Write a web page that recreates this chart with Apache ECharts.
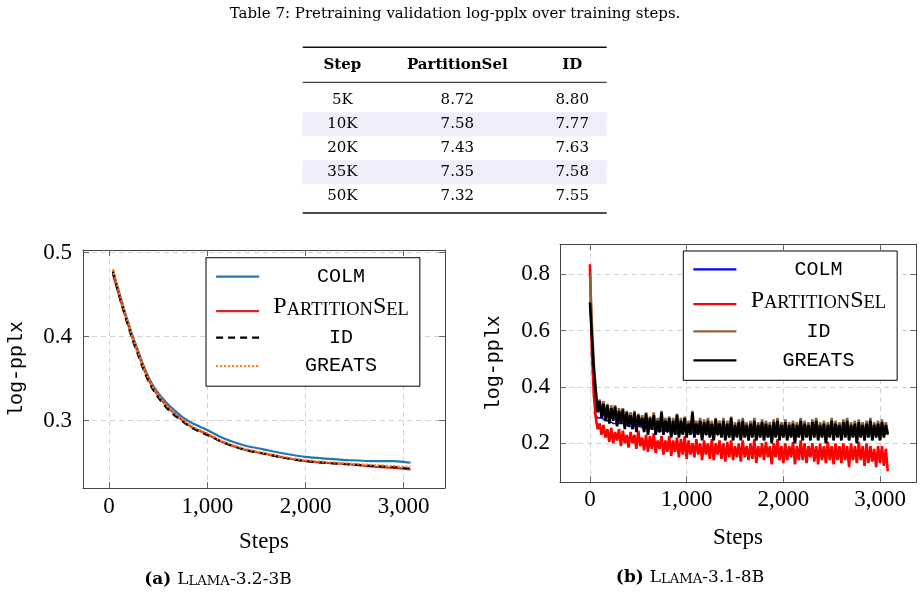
<!DOCTYPE html>
<html>
<head>
<meta charset="utf-8">
<script src="https://cdn.jsdelivr.net/npm/echarts@6/dist/echarts.min.js"></script>
<style>
  html, body { margin: 0; padding: 0; background: #fff; }
  #container { width: 924px; height: 598px; }
</style>
</head>
<body>
<div id="container"></div>
<script>
// ---- Table 7 ----
let tableHeader = ["Step", "PartitionSel", "ID"];
let tableSteps = ["5K", "10K", "20K", "35K", "50K"];
let tablePartitionSel = [8.72, 7.58, 7.43, 7.35, 7.32];
let tableId = [8.8, 7.77, 7.63, 7.58, 7.55];
let shadedRows = [1, 3];

// ---- (a) Llama-3.2-3B ----
let stepsA = [40, 80, 120, 160, 200, 240, 300, 350, 410, 480, 580, 660, 750, 850, 1000, 1130, 1260, 1400, 1570, 1780, 2000, 2200, 2460, 2730, 2900, 3070];
let colmA = [0.479, 0.462, 0.446, 0.43, 0.415, 0.401, 0.382, 0.366, 0.35, 0.336, 0.322, 0.313, 0.304, 0.297, 0.289, 0.281, 0.275, 0.27, 0.266, 0.261, 0.257, 0.255, 0.253, 0.252, 0.252, 0.25];
let partitionA = [0.474, 0.458, 0.442, 0.427, 0.412, 0.398, 0.379, 0.363, 0.347, 0.333, 0.318, 0.309, 0.3, 0.292, 0.284, 0.276, 0.27, 0.265, 0.261, 0.256, 0.252, 0.25, 0.248, 0.245, 0.244, 0.242];
let idA = [0.477, 0.459, 0.442, 0.426, 0.411, 0.396, 0.377, 0.361, 0.345, 0.331, 0.316, 0.307, 0.299, 0.291, 0.283, 0.276, 0.27, 0.265, 0.261, 0.256, 0.252, 0.25, 0.248, 0.246, 0.245, 0.243];
let greatsA = [0.48, 0.462, 0.445, 0.429, 0.414, 0.399, 0.38, 0.364, 0.348, 0.334, 0.319, 0.31, 0.301, 0.293, 0.285, 0.277, 0.271, 0.266, 0.262, 0.257, 0.253, 0.251, 0.249, 0.247, 0.246, 0.245];

// ---- (b) Llama-3.1-8B, logged every 20 steps (COLM every 40 from step 40) ----
let logEveryB = 20;
let colmStartB = 40;
let colmEveryB = 40;
let colmB = [
  0.31, 0.29, 0.29, 0.28, 0.28, 0.27, 0.27, 0.27, 0.27, 0.26,
  0.26, 0.26, 0.26, 0.25, 0.26, 0.25, 0.25, 0.24, 0.25, 0.24,
  0.25, 0.24, 0.23, 0.25, 0.24, 0.25, 0.23, 0.24, 0.25, 0.23,
  0.24, 0.25, 0.23, 0.24, 0.25, 0.23, 0.24, 0.25, 0.23, 0.24,
  0.24, 0.23, 0.25, 0.24, 0.23, 0.24, 0.25, 0.23, 0.24, 0.23,
  0.24, 0.25, 0.23, 0.24, 0.23, 0.25, 0.24, 0.23, 0.24, 0.25,
  0.23, 0.24, 0.23, 0.24, 0.25, 0.23, 0.24, 0.23, 0.24, 0.25,
  0.23, 0.24, 0.23, 0.24, 0.25, 0.23, 0.24
];
let partitionB = [
  0.836, 0.52, 0.37, 0.29, 0.25, 0.27, 0.23, 0.265, 0.22, 0.25,
  0.205, 0.255, 0.2, 0.24, 0.21, 0.25, 0.19, 0.245, 0.2, 0.23,
  0.185, 0.24, 0.2, 0.23, 0.18, 0.245, 0.19, 0.22, 0.175, 0.23,
  0.17, 0.225, 0.18, 0.235, 0.165, 0.21, 0.18, 0.225, 0.16, 0.21,
  0.17, 0.225, 0.155, 0.21, 0.17, 0.22, 0.15, 0.215, 0.16, 0.225,
  0.145, 0.21, 0.16, 0.2, 0.15, 0.215, 0.16, 0.2, 0.14, 0.21,
  0.16, 0.2, 0.145, 0.215, 0.14, 0.2, 0.16, 0.21, 0.145, 0.2,
  0.135, 0.205, 0.15, 0.21, 0.14, 0.19, 0.15, 0.2, 0.135, 0.21,
  0.15, 0.19, 0.14, 0.2, 0.145, 0.215, 0.13, 0.19, 0.15, 0.2,
  0.14, 0.205, 0.15, 0.19, 0.125, 0.2, 0.15, 0.215, 0.14, 0.19,
  0.13, 0.2, 0.14, 0.19, 0.15, 0.205, 0.125, 0.19, 0.14, 0.21,
  0.14, 0.2, 0.13, 0.19, 0.15, 0.2, 0.135, 0.19, 0.125, 0.2,
  0.14, 0.19, 0.13, 0.205, 0.14, 0.19, 0.125, 0.2, 0.14, 0.19,
  0.13, 0.2, 0.14, 0.19, 0.115, 0.2, 0.14, 0.19, 0.13, 0.205,
  0.14, 0.19, 0.12, 0.2, 0.13, 0.19, 0.135, 0.18, 0.115, 0.19,
  0.13, 0.19, 0.12, 0.18, 0.1
];
let idB = [
  0.8, 0.62, 0.48, 0.39, 0.325, 0.355, 0.295, 0.35, 0.285, 0.34,
  0.275, 0.335, 0.285, 0.335, 0.265, 0.325, 0.275, 0.325, 0.26, 0.315,
  0.265, 0.31, 0.255, 0.315, 0.245, 0.305, 0.265, 0.3, 0.245, 0.31,
  0.235, 0.295, 0.255, 0.31, 0.235, 0.29, 0.245, 0.315, 0.235, 0.29,
  0.245, 0.295, 0.225, 0.29, 0.235, 0.305, 0.225, 0.29, 0.235, 0.295,
  0.225, 0.28, 0.235, 0.315, 0.225, 0.28, 0.235, 0.29, 0.215, 0.285,
  0.235, 0.29, 0.225, 0.28, 0.215, 0.29, 0.235, 0.28, 0.225, 0.29,
  0.215, 0.28, 0.225, 0.295, 0.215, 0.275, 0.225, 0.285, 0.215, 0.29,
  0.225, 0.275, 0.215, 0.28, 0.225, 0.29, 0.215, 0.275, 0.225, 0.285,
  0.215, 0.28, 0.225, 0.275, 0.205, 0.285, 0.225, 0.29, 0.215, 0.275,
  0.225, 0.285, 0.215, 0.275, 0.225, 0.28, 0.205, 0.275, 0.225, 0.29,
  0.215, 0.28, 0.225, 0.275, 0.215, 0.285, 0.225, 0.29, 0.215, 0.275,
  0.225, 0.28, 0.205, 0.275, 0.225, 0.29, 0.215, 0.28, 0.225, 0.275,
  0.215, 0.285, 0.225, 0.29, 0.215, 0.275, 0.225, 0.28, 0.205, 0.285,
  0.225, 0.275, 0.215, 0.28, 0.225, 0.29, 0.215, 0.275, 0.225, 0.28,
  0.215, 0.285, 0.225, 0.275, 0.235
];
let greatsB = [
  0.7, 0.58, 0.46, 0.38, 0.31, 0.35, 0.29, 0.34, 0.28, 0.335,
  0.27, 0.325, 0.28, 0.33, 0.26, 0.315, 0.27, 0.32, 0.25, 0.31,
  0.26, 0.3, 0.25, 0.31, 0.24, 0.3, 0.26, 0.29, 0.24, 0.305,
  0.23, 0.29, 0.25, 0.3, 0.23, 0.28, 0.24, 0.31, 0.23, 0.28,
  0.24, 0.29, 0.22, 0.28, 0.23, 0.3, 0.22, 0.28, 0.23, 0.29,
  0.22, 0.27, 0.23, 0.31, 0.22, 0.27, 0.23, 0.28, 0.21, 0.275,
  0.23, 0.28, 0.22, 0.27, 0.21, 0.285, 0.23, 0.27, 0.22, 0.28,
  0.21, 0.27, 0.22, 0.29, 0.21, 0.265, 0.22, 0.275, 0.21, 0.28,
  0.22, 0.265, 0.21, 0.27, 0.22, 0.28, 0.21, 0.265, 0.22, 0.275,
  0.21, 0.27, 0.22, 0.265, 0.2, 0.275, 0.22, 0.28, 0.21, 0.265,
  0.22, 0.275, 0.21, 0.265, 0.22, 0.27, 0.2, 0.265, 0.22, 0.28,
  0.21, 0.27, 0.22, 0.265, 0.21, 0.275, 0.22, 0.28, 0.21, 0.265,
  0.22, 0.27, 0.2, 0.265, 0.22, 0.28, 0.21, 0.27, 0.22, 0.265,
  0.21, 0.275, 0.22, 0.28, 0.21, 0.265, 0.22, 0.27, 0.2, 0.275,
  0.22, 0.265, 0.21, 0.27, 0.22, 0.28, 0.21, 0.265, 0.22, 0.27,
  0.21, 0.275, 0.22, 0.265, 0.23
];

let xTicks = [0, 1000, 2000, 3000];
let yTicksA = [0.3, 0.4, 0.5];
let yTicksB = [0.2, 0.4, 0.6, 0.8];

// layout of the table in its own value grid
let tableXMin = -0.345, tableXMax = 2.3;
let tableYMin = -2.21, tableYMax = 4.7;
let headerRowY = -1.47;
let midRuleY = -0.75;

let serif = "'Liberation Serif', serif";
let mono = "'Liberation Mono', monospace";
let tableFont = "'DejaVu Serif', serif";

function zip(xs, ys) {
  return ys.map(function (v, i) { return [xs[i], v]; });
}
function logged(ys, start, every) {
  return ys.map(function (v, i) { return [start + i * every, v]; });
}
function thousands(v) {
  if (v >= 1000) return Math.floor(v / 1000) + "," + String(v % 1000).padStart(3, "0");
  return String(v);
}

let tableCells = [];
tableHeader.forEach(function (t, c) {
  tableCells.push({ col: c, row: headerRowY, text: t, bold: true });
});
tableSteps.forEach(function (s, r) {
  tableCells.push({ col: 0, row: r, text: s });
  tableCells.push({ col: 1, row: r, text: tablePartitionSel[r].toFixed(2) });
  tableCells.push({ col: 2, row: r, text: tableId[r].toFixed(2) });
});
let tableRules = [
  { y: tableYMin, width: 1.6 },
  { y: midRuleY, width: 1 },
  { y: tableYMax, width: 1.6 },
];

let gridLine = { show: true, lineStyle: { color: "#d2d2d2", type: [5, 4], width: 1 } };
let frame = { show: true, onZero: false, lineStyle: { color: "#444", width: 1 } };

function mainX(grid, min, max, gap, margin) {
  return {
    type: "value", gridIndex: grid, position: "bottom", min: min, max: max,
    name: "Steps", nameLocation: "middle", nameGap: gap,
    nameTextStyle: { fontFamily: serif, fontSize: 23, color: "#000" },
    axisLine: frame,
    axisTick: { show: true, inside: true, length: 6, customValues: xTicks, lineStyle: { color: "#666" } },
    axisLabel: { customValues: xTicks, margin: margin, fontFamily: serif, fontSize: 23, color: "#000", formatter: thousands },
    splitLine: gridLine,
  };
}
function mirrorX(grid, min, max) {
  return {
    type: "value", gridIndex: grid, position: "top", min: min, max: max,
    axisLine: frame,
    axisTick: { show: true, inside: true, length: 6, customValues: xTicks, lineStyle: { color: "#666" } },
    axisLabel: { show: false },
    splitLine: { show: false },
  };
}
function mainY(grid, min, max, ticks, margin) {
  return {
    type: "value", gridIndex: grid, position: "left", min: min, max: max,
    name: "log-pplx", nameLocation: "middle", nameGap: 56,
    nameTextStyle: { fontFamily: mono, fontSize: 20, color: "#000" },
    axisLine: frame,
    axisTick: { show: true, inside: true, length: 6, customValues: ticks, lineStyle: { color: "#666" } },
    axisLabel: { customValues: ticks, margin: margin, fontFamily: serif, fontSize: 23, color: "#000", formatter: function (v) { return v.toFixed(1); } },
    splitLine: gridLine,
  };
}
function mirrorY(grid, min, max, ticks) {
  return {
    type: "value", gridIndex: grid, position: "right", min: min, max: max,
    axisLine: frame,
    axisTick: { show: true, inside: true, length: 6, customValues: ticks, lineStyle: { color: "#666" } },
    axisLabel: { show: false },
    splitLine: { show: false },
  };
}

let legendRich = {
  m: { fontFamily: mono, fontSize: 20, lineHeight: 20, align: "center", color: "#000" },
  P: { fontFamily: serif, fontSize: 24, lineHeight: 16.3, verticalAlign: "bottom", align: "center", color: "#000" },
  sc: { fontFamily: serif, fontSize: 18.5, lineHeight: 12.6, verticalAlign: "bottom", align: "center", color: "#000" },
};
function legendLabel(name) {
  let base = name.split("|")[0];
  if (base === "PartitionSel") return "{P|P}{sc|ARTITION}{P|S}{sc|EL}";
  return "{m|" + base + "}";
}
function legendBox(names, left, top, gap, padTop) {
  return {
    orient: "vertical", left: left, top: top, data: names,
    itemWidth: 43, itemHeight: 20, itemGap: gap,
    padding: [padTop, 11, 10, 9],
    borderColor: "#000", borderWidth: 1, backgroundColor: "#fff",
    itemStyle: { opacity: 0 },
    lineStyle: { width: 2.2 },
    selectedMode: false,
    formatter: legendLabel,
    textStyle: { width: 154, rich: legendRich },
  };
}

function lineA(name, data, color, type, width) {
  return {
    name: name, type: "line", xAxisIndex: 1, yAxisIndex: 1, data: data,
    showSymbol: false, symbol: "none", smooth: 0.3,
    lineStyle: { color: color, width: width, type: type },
    itemStyle: { color: color },
  };
}
function lineB(name, data, color, width) {
  return {
    name: name, type: "line", xAxisIndex: 3, yAxisIndex: 3, data: data,
    showSymbol: false, symbol: "none",
    lineStyle: { color: color, width: width, join: "miter", miterLimit: 3 },
    itemStyle: { color: color },
  };
}

let dom = document.getElementById("container");
let myChart = echarts.init(dom, null, { renderer: "canvas" });

let xMinA = -265, xMaxA = 3420, yMinA = 0.22, yMaxA = 0.503;
let xMinB = -310, xMaxB = 3372, yMinB = 0.0615, yMaxB = 0.9066;

let captionRich = {
  b: { fontFamily: tableFont, fontWeight: "bold", fontSize: 17, lineHeight: 11.9, verticalAlign: "bottom", fill: "#000" },
  n: { fontFamily: tableFont, fontSize: 17, lineHeight: 11.9, verticalAlign: "bottom", fill: "#000" },
  sc: { fontFamily: tableFont, fontSize: 13.2, lineHeight: 9.2, verticalAlign: "bottom", fill: "#000" },
};

let option = {
  animation: false,
  backgroundColor: "#fff",
  grid: [
    { left: 302.7, right: 317.3, top: 47.3, bottom: 385 },
    { left: 83, width: 362, top: 250, height: 238 },
    { left: 560, width: 356, top: 244.3, height: 238 },
  ],
  xAxis: [
    { type: "value", gridIndex: 0, min: tableXMin, max: tableXMax, show: false },
    mainX(1, xMinA, xMaxA, 42, 7),
    mirrorX(1, xMinA, xMaxA),
    mainX(2, xMinB, xMaxB, 44, 6),
    mirrorX(2, xMinB, xMaxB),
  ],
  yAxis: [
    { type: "value", gridIndex: 0, min: tableYMin, max: tableYMax, inverse: true, show: false },
    mainY(1, yMinA, yMaxA, yTicksA, 11),
    mirrorY(1, yMinA, yMaxA, yTicksA),
    mainY(2, yMinB, yMaxB, yTicksB, 10),
    mirrorY(2, yMinB, yMaxB, yTicksB),
  ],
  legend: [
    legendBox(["COLM", "PartitionSel", "ID", "GREATS"], 206, 257.7, 8.5, 9),
    legendBox(["COLM|b", "PartitionSel|b", "ID|b", "GREATS|b"], 683.3, 251, 9, 8.3),
  ],
  graphic: [
    {
      type: "text", x: 455, y: 14,
      style: { text: "Table 7: Pretraining validation log-pplx over training steps.", font: "15px " + tableFont, fill: "#000", align: "center", verticalAlign: "middle" },
    },
    {
      type: "text", x: 218, y: 582,
      style: { text: "{b|(a) }{n|L}{sc|LAMA}{n|-3.2-3B}", align: "center", verticalAlign: "middle", rich: captionRich },
    },
    {
      type: "text", x: 690, y: 580,
      style: { text: "{b|(b) }{n|L}{sc|LAMA}{n|-3.1-8B}", align: "center", verticalAlign: "middle", rich: captionRich },
    },
  ],
  series: [
    {
      type: "custom", xAxisIndex: 0, yAxisIndex: 0, silent: true,
      data: shadedRows.map(function (r) { return [0, r]; }),
      renderItem: function (params, api) {
        let a = api.coord([tableXMin, api.value(1) - 0.5]);
        let b = api.coord([tableXMax, api.value(1) + 0.5]);
        return { type: "rect", shape: { x: a[0], y: a[1], width: b[0] - a[0], height: b[1] - a[1] }, style: { fill: "#eeeefb" } };
      },
    },
    {
      type: "custom", xAxisIndex: 0, yAxisIndex: 0, silent: true, clip: false,
      data: tableRules.map(function (r) { return [0, r.y]; }),
      renderItem: function (params, api) {
        let a = api.coord([tableXMin, api.value(1)]);
        let b = api.coord([tableXMax, api.value(1)]);
        return { type: "line", shape: { x1: a[0], y1: a[1], x2: b[0], y2: b[1] }, style: { stroke: "#111", lineWidth: tableRules[params.dataIndex].width } };
      },
    },
    {
      type: "custom", xAxisIndex: 0, yAxisIndex: 0, silent: true, clip: false,
      data: tableCells.map(function (c) { return [c.col, c.row]; }),
      renderItem: function (params, api) {
        let cell = tableCells[params.dataIndex];
        let p = api.coord([api.value(0), api.value(1)]);
        return {
          type: "text", x: p[0], y: p[1],
          style: { text: cell.text, align: "center", verticalAlign: "middle", font: (cell.bold ? "bold " : "") + "15px " + tableFont, fill: "#000" },
        };
      },
    },
    lineA("COLM", zip(stepsA, colmA), "#1f77b4", "solid", 2.2),
    lineA("PartitionSel", zip(stepsA, partitionA), "#d62728", "solid", 2.2),
    lineA("ID", zip(stepsA, idA), "#000", [7, 5], 2.2),
    lineA("GREATS", zip(stepsA, greatsA), "#ff7f0e", [2, 2], 2.2),
    lineB("COLM|b", logged(colmB, colmStartB, colmEveryB), "#0000ff", 1.5),
    lineB("PartitionSel|b", logged(partitionB, 0, logEveryB), "#ff0000", 2.6),
    lineB("ID|b", logged(idB, 0, logEveryB), "#8c6239", 2.6),
    lineB("GREATS|b", logged(greatsB, 0, logEveryB), "#000000", 2.6),
  ],
};

if (option && typeof option === "object") {
  myChart.setOption(option);
}
window.addEventListener("resize", myChart.resize);
</script>
</body>
</html>
